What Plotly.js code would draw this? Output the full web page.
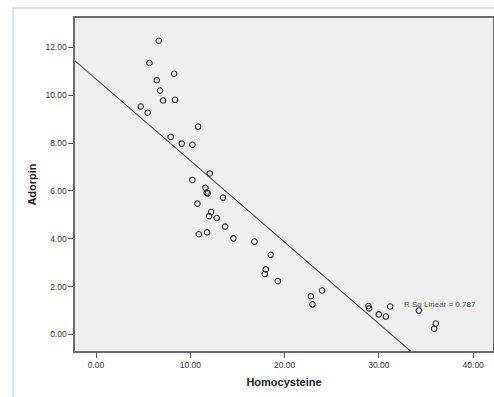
<!DOCTYPE html>
<html>
<head>
<meta charset="utf-8">
<script src="https://cdn.plot.ly/plotly-3.0.1.min.js"></script>
<style>
  html, body { margin: 0; padding: 0; background: #ffffff; }
  #wrap { position: relative; width: 494px; height: 397px; overflow: hidden; }
  #frame { position: absolute; left: 12px; top: 7px; width: 500px; height: 400px;
           border-left: 2px solid #cfe6fb; border-top: 2px solid #cfe6fb; box-sizing: border-box; }
  #chart { position: absolute; left: 0; top: 0; width: 494px; height: 397px; }
</style>
</head>
<body>
<div id="wrap">
  <div id="frame"></div>
  <div id="chart"></div>
</div>
<script>
// Homocysteine (x) and Adorpin (y) values
const homocysteine = [6.65, 5.66, 8.28, 6.44, 6.79, 7.11, 8.38, 4.74, 5.48, 10.82,
  7.92, 9.09, 10.22, 12.06, 10.22, 11.60, 11.74, 11.85, 13.47, 10.75,
  12.20, 11.99, 12.80, 13.69, 10.90, 11.78, 14.57, 16.80, 18.53, 18.00,
  17.90, 19.28, 22.78, 23.98, 22.95, 28.89, 28.97, 29.99, 30.74, 31.19,
  34.24, 36.04, 35.86];
const adorpin = [12.28, 11.35, 10.90, 10.63, 10.20, 9.78, 9.81, 9.53, 9.27, 8.69,
  8.26, 7.98, 7.93, 6.73, 6.46, 6.13, 5.92, 5.90, 5.72, 5.47,
  5.12, 4.95, 4.87, 4.51, 4.19, 4.27, 4.02, 3.88, 3.33, 2.72,
  2.53, 2.23, 1.60, 1.84, 1.26, 1.19, 1.09, 0.84, 0.75, 1.17,
  1.00, 0.46, 0.24];

// Linear fit as drawn in the reference
const fitIntercept = 10.68;
const fitSlope = -0.341;
const rSqText = "R Sq Linear = 0.787";

const xTicks = [0, 10, 20, 30, 40];
const xTickText = ["0.00", "10.00", "20.00", "30.00", "40.00"];
const yTicks = [0, 2, 4, 6, 8, 10, 12];
const yTickText = ["0.00", "2.00", "4.00", "6.00", "8.00", "10.00", "12.00"];

const xRange = [-2.23, 42.1];
const yRange = [-0.69, 13.23];

const fitX = [xRange[0], xRange[1]];
const fitY = fitX.map(x => fitIntercept + fitSlope * x);

const traces = [
  {
    x: fitX, y: fitY, type: 'scatter', mode: 'lines',
    line: { color: '#505050', width: 1.1 }, hoverinfo: 'skip', showlegend: false
  },
  {
    x: homocysteine, y: adorpin, type: 'scatter', mode: 'markers',
    marker: { symbol: 'circle-open', size: 5.5, color: '#333333', line: { width: 1.1, color: '#333333' } },
    showlegend: false
  }
];

const axisFont = { family: 'Liberation Sans, Arial, sans-serif', size: 8.5, color: '#333333' };

const layout = {
  width: 494, height: 397,
  margin: { l: 75, r: 1, t: 18, b: 46 },
  paper_bgcolor: 'rgba(0,0,0,0)',
  plot_bgcolor: '#efefef',
  showlegend: false,
  xaxis: {
    range: xRange, tickmode: 'array', tickvals: xTicks, ticktext: xTickText,
    ticks: 'outside', ticklen: 5, tickwidth: 1, tickcolor: '#555555',
    showgrid: false, zeroline: false,
    showline: true, linecolor: '#6a6a6a', linewidth: 1.6, mirror: true,
    tickfont: axisFont,
    title: { text: 'Homocysteine', standoff: 9,
             font: { family: 'Liberation Sans, Arial, sans-serif', size: 11, color: '#222222', weight: 'bold' } }
  },
  yaxis: {
    range: yRange, tickmode: 'array', tickvals: yTicks, ticktext: yTickText,
    ticks: 'outside', ticklen: 5, tickwidth: 1, tickcolor: '#555555',
    showgrid: false, zeroline: false,
    showline: true, linecolor: '#6a6a6a', linewidth: 1.6, mirror: true,
    tickfont: axisFont,
    title: { text: 'Adorpin', standoff: 6,
             font: { family: 'Liberation Sans, Arial, sans-serif', size: 11, color: '#222222', weight: 'bold' } }
  },
  annotations: [
    {
      x: 32.5, y: 1.27, xref: 'x', yref: 'y', xanchor: 'left', yanchor: 'middle',
      text: rSqText, showarrow: false,
      font: { family: 'Liberation Sans, Arial, sans-serif', size: 8, color: '#555555' }
    }
  ]
};

Plotly.newPlot('chart', traces, layout, { displayModeBar: false, staticPlot: true });
</script>
</body>
</html>
